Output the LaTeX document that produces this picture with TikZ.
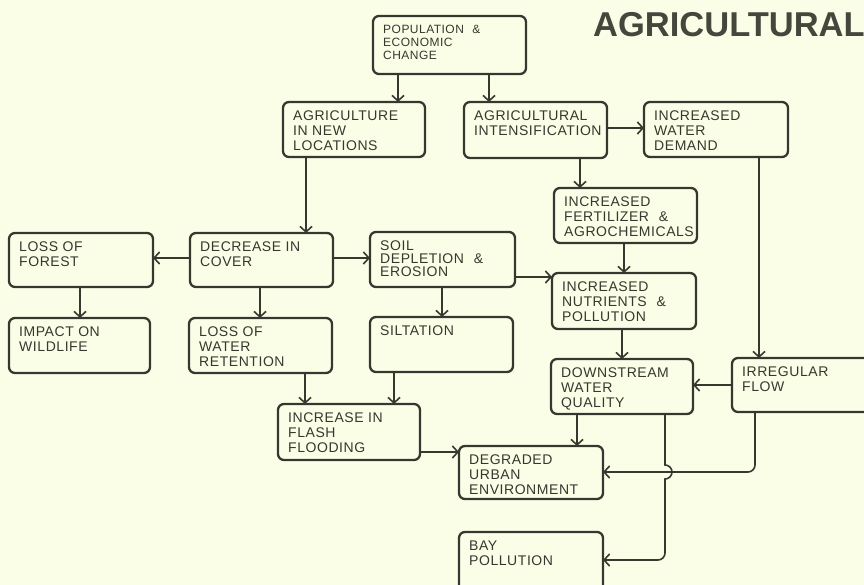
\documentclass[tikz,border=0pt]{standalone}
\usepackage{fontspec}
\setmainfont{Liberation Sans}
\newfontfamily\boxfont[LetterSpace=4]{Liberation Sans}
\newfontfamily\titlefont{Liberation Sans}
\usetikzlibrary{arrows.meta}

\definecolor{paper}{RGB}{251,254,230}
\definecolor{ink}{RGB}{55,55,47}
\definecolor{titleink}{RGB}{70,71,60}

\tikzset{
  box/.style={draw=ink, line width=2.3pt, rounded corners=6pt, anchor=north west,
              inner sep=0pt, outer sep=0pt},
  lbl/.style={anchor=north west, inner sep=0pt, align=left, text=ink,
              font=\boxfont\fontsize{14}{14.6}\selectfont},
  small/.style={font=\boxfont\fontsize{12}{12.8}\selectfont},
  arr/.style={draw=ink, line width=1.6pt,
              -{Straight Barb[length=5.5pt,width=12pt]}},
  heading/.style={anchor=base west, inner sep=0pt, text=titleink,
                  font=\titlefont\bfseries\fontsize{34.5}{37}\selectfont},
}

% \flowbox[label options]{name}{left}{top}{right}{bottom}{text}
\newcommand\flowbox[7][]{%
  \node[box, minimum width={(#5-#3)*1pt}, minimum height={(#6-#4)*1pt}]
    (#2) at (#3,#4) {};
  \node[lbl,#1] (#2-txt) at ([shift={(10,9)}]#2.north west) {#7};
}

\begin{document}
\begin{tikzpicture}[x=1pt,y=-1pt]
  \useasboundingbox (0,0) rectangle (864,585);
  \clip (0,0) rectangle (864,585);
  \fill[paper] (0,0) rectangle (864,585);

  \node[heading] (title) at (593,37) {AGRICULTURAL};

  % boxes
  \flowbox[small]{pop}{373}{16}{526}{74}{POPULATION\hspace{0.7em}\&\\ECONOMIC\\CHANGE}
  \flowbox{nl}{283}{102}{425}{157}{AGRICULTURE\\IN NEW\\LOCATIONS}
  \flowbox{ai}{464}{102}{607}{158}{AGRICULTURAL\\INTENSIFICATION}
  \flowbox{wd}{644}{102}{788}{157}{INCREASED\\WATER\\DEMAND}
  \flowbox{fa}{554}{188}{697}{243}{INCREASED\\FERTILIZER\hspace{0.7em}\&\\AGROCHEMICALS}
  \flowbox{lf}{9}{233}{153}{287}{LOSS OF\\FOREST}
  \flowbox{dc}{190}{233}{333}{287}{DECREASE IN\\COVER}
  \flowbox{sd}{370}{232}{515}{287}{SOIL\\[-2pt]DEPLETION\hspace{0.7em}\&\\[-2pt]EROSION}
  \flowbox{iw}{9}{318}{150}{373}{IMPACT ON\\WILDLIFE}
  \flowbox{lw}{189}{318}{332}{373}{LOSS OF\\WATER\\RETENTION}
  \flowbox{si}{370}{317}{513}{372}{SILTATION}
  \flowbox{np}{552}{273}{696}{329}{INCREASED\\NUTRIENTS\hspace{0.7em}\&\\POLLUTION}
  \flowbox{dq}{551}{359}{693}{414}{DOWNSTREAM\\WATER\\QUALITY}
  \flowbox{ir}{732}{358}{874}{412}{IRREGULAR\\FLOW}
  \flowbox{ff}{278}{404}{420}{460}{INCREASE IN\\FLASH\\FLOODING}
  \flowbox{du}{459}{446}{603}{499}{DEGRADED\\URBAN\\ENVIRONMENT}
  \flowbox{bp}{459}{532}{603}{596}{BAY\\POLLUTION}

  % straight connectors
  \draw[arr] (398,0 |- pop.south) -- (398,0 |- nl.north);
  \draw[arr] (489,0 |- pop.south) -- (489,0 |- ai.north);
  \draw[arr] (306,0 |- nl.south) -- (306,0 |- dc.north);
  \draw[arr] (ai.east |- 0,128) -- (wd.west |- 0,128);
  \draw[arr] (580,0 |- ai.south) -- (580,0 |- fa.north);
  \draw[arr] (dc.west |- 0,258) -- (lf.east |- 0,258);
  \draw[arr] (dc.east |- 0,258) -- (sd.west |- 0,258);
  \draw[arr] (260,0 |- dc.south) -- (260,0 |- lw.north);
  \draw[arr] (80,0 |- lf.south) -- (80,0 |- iw.north);
  \draw[arr] (442,0 |- sd.south) -- (442,0 |- si.north);
  \draw[arr] (sd.east |- 0,277) -- (np.west |- 0,277);
  \draw[arr] (624,0 |- fa.south) -- (624,0 |- np.north);
  \draw[arr] (759,0 |- wd.south) -- (759,0 |- ir.north);
  \draw[arr] (622,0 |- np.south) -- (622,0 |- dq.north);
  \draw[arr] (ir.west |- 0,385) -- (dq.east |- 0,385);
  \draw[arr] (305,0 |- lw.south) -- (305,0 |- ff.north);
  \draw[arr] (394,0 |- si.south) -- (394,0 |- ff.north);
  \draw[arr] (ff.east |- 0,452) -- (du.west |- 0,452);
  \draw[arr] (577,0 |- dq.south) -- (577,0 |- du.north);

  % elbow connectors; the downstream line hops over the flow line
  \draw[arr, rounded corners=7pt] (755,0 |- ir.south) -- (755,472) -- (du.east |- 0,472);
  \draw[arr] (665,0 |- dq.south) -- (665,465)
        arc[start angle=-90, end angle=90, radius=7]
        [rounded corners=7pt] -- (665,560) -- (bp.east |- 0,560);
\end{tikzpicture}
\end{document}
